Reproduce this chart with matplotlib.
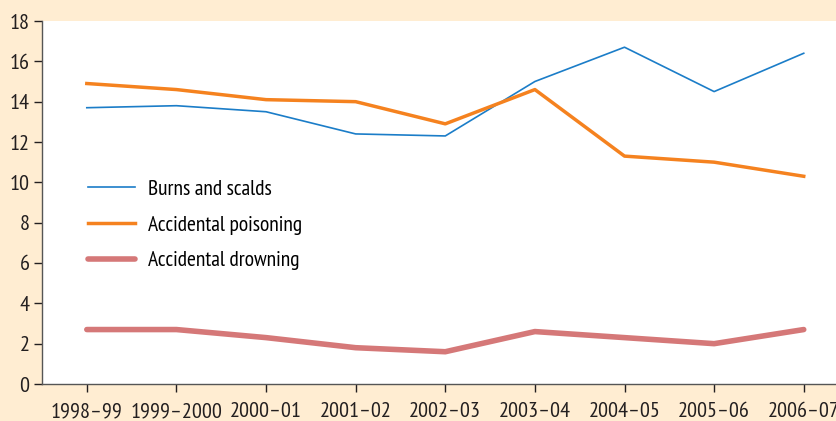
import matplotlib.pyplot as plt
from matplotlib import font_manager

years = ['1998–99', '1999–2000', '2000–01', '2001–02', '2002–03',
         '2003–04', '2004–05', '2005–06', '2006–07']
burns = [13.7, 13.8, 13.5, 12.4, 12.3, 15.0, 16.7, 14.5, 16.4]
poisoning = [14.9, 14.6, 14.1, 14.0, 12.9, 14.6, 11.3, 11.0, 10.3]
drowning = [2.7, 2.7, 2.3, 1.8, 1.6, 2.6, 2.3, 2.0, 2.7]

# condensed font like the original, first one that exists
names = set(f.name for f in font_manager.fontManager.ttflist)
fam = 'DejaVu Sans'
for cand in ['Myriad Pro Cond', 'PT Sans Narrow', 'Roboto Condensed', 'Fira Sans Condensed',
             'Archivo Narrow', 'Liberation Sans Narrow', 'Open Sans Condensed']:
    if cand in names:
        fam = cand
        break
plt.rcParams['font.family'] = [fam, 'DejaVu Sans']

bg = '#FFEDD2'
fig = plt.figure(figsize=(8.36, 4.21), dpi=100, facecolor=bg)
ax = fig.add_axes([42 / 836, (421 - 384) / 421, (836 - 42) / 836, (384 - 21) / 421])
ax.set_facecolor('white')

x = range(len(years))
ax.plot(x, burns, color='#1B7DC8', lw=1.2, label='Burns and scalds')
ax.plot(x, poisoning, color='#F5821F', lw=2.5, label='Accidental poisoning')
ax.plot(x, drowning, color='#D57878', lw=4, solid_capstyle='round', label='Accidental drowning')

ax.set_xlim(-0.5, 8.36)
ax.set_ylim(0, 18)
ax.set_yticks(range(0, 19, 2))
ax.set_xticks(list(x))
ax.set_xticklabels(years)
ax.tick_params(labelsize=16, colors='#231F20', length=6, width=1)
ax.tick_params(axis='x', pad=7)
ax.tick_params(axis='y', pad=3)
for s in ['top', 'right']:
    ax.spines[s].set_visible(False)
for s in ['left', 'bottom']:
    ax.spines[s].set_color('#555555')
    ax.spines[s].set_linewidth(1)

ax.legend(loc='upper left', bbox_to_anchor=(0.058, 0.563), frameon=False, fontsize=15.5,
          borderpad=0, borderaxespad=0,
          handlelength=2.2, handletextpad=0.6, labelspacing=0.78)

fig.savefig('out.png', dpi=100, facecolor=bg)
